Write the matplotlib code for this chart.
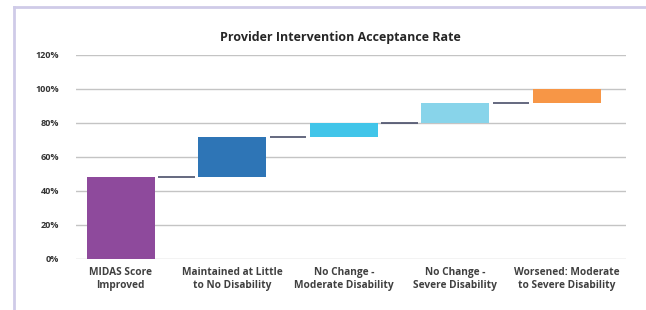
import matplotlib.pyplot as plt
from matplotlib.lines import Line2D
from matplotlib.ticker import FuncFormatter
import numpy as np

# data
categories = ['MIDAS Score\nImproved', 'Maintained at Little\nto No Disability',
              'No Change -\nModerate Disability', 'No Change -\nSevere Disability',
              'Worsened: Moderate\nto Severe Disability']
deltas = [48, 24, 8, 12, 8]
colors = ['#8e4a9c', '#2e75b6', '#41c5e9', '#88d4ea', '#f79646']

plt.rcParams['font.family'] = ['Open Sans', 'DejaVu Sans']

tops = np.cumsum(deltas) / 100
bottoms = tops - np.array(deltas) / 100
x = np.arange(len(categories))
bar_w = 0.61

fig = plt.figure(figsize=(6.46, 3.10), dpi=100)
ax = fig.add_axes([76 / 646, 1 - 259 / 310, 550 / 646, 204 / 310])

ax.bar(x, tops - bottoms, bottom=bottoms, width=bar_w, color=colors, zorder=2)

# connectors between bars
gap = 0.03
for i in range(len(x) - 1):
    ax.hlines(tops[i], x[i] + bar_w / 2 + gap, x[i + 1] - bar_w / 2 - gap,
              color='#4a4f6a', lw=1.2, zorder=3)

ax.set_xlim(-0.40, 4.53)
ax.set_ylim(0, 1.2)
ax.set_yticks(np.arange(0, 1.21, 0.2))
ax.yaxis.set_major_formatter(FuncFormatter(lambda v, p: f'{v * 100:.0f}%'))
ax.grid(axis='y', color='#c4c4c4', lw=1.0, zorder=0)
ax.set_axisbelow(True)
for s in ax.spines.values():
    s.set_visible(False)
ax.tick_params(axis='y', length=0, pad=12, labelsize=6.5, labelcolor='#333333')
ax.tick_params(axis='x', length=0, pad=6)
ax.set_xticks(x)
ax.set_xticklabels(categories, fontsize=7.3, fontweight='bold', color='#404040',
                   linespacing=1.25)
for t in ax.get_yticklabels():
    t.set_fontweight('bold')

fig.text(340 / 646, 1 - 37 / 310, 'Provider Intervention Acceptance Rate',
         ha='center', va='center', fontsize=9, fontweight='bold', color='#262626')

# frame lines
fig.add_artist(Line2D([14 / 646, 14 / 646], [0, 1 - 7 / 310], color='#cfcbe8', lw=2,
                      transform=fig.transFigure))
fig.add_artist(Line2D([14 / 646, 1], [1 - 7 / 310, 1 - 7 / 310], color='#cfcbe8', lw=2,
                      transform=fig.transFigure))

fig.savefig('out.png', dpi=100)
